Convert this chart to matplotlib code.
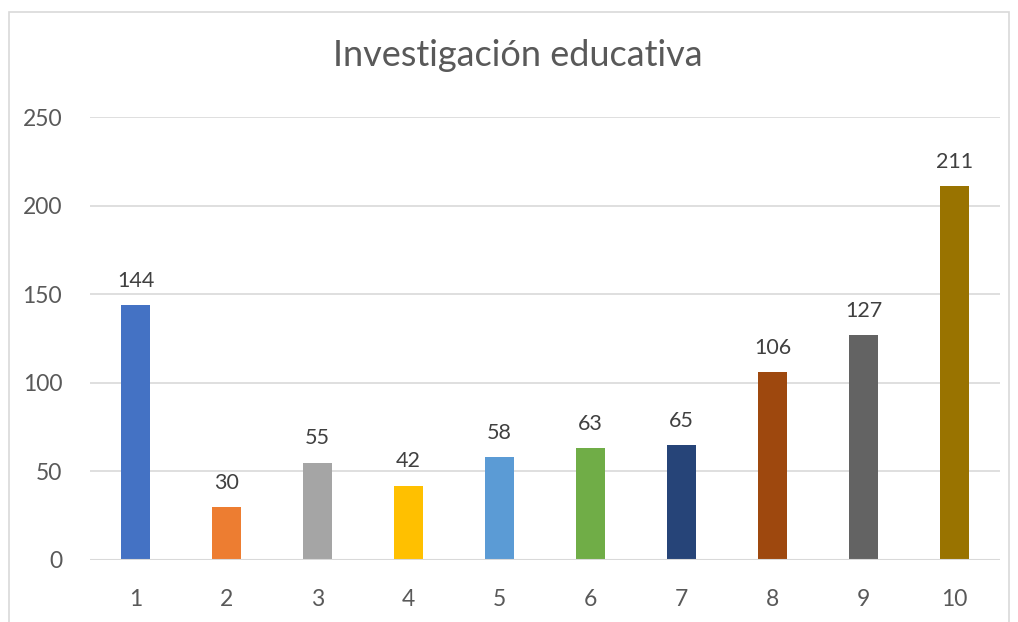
import matplotlib.pyplot as plt
from matplotlib.patches import Rectangle

categories = ["1", "2", "3", "4", "5", "6", "7", "8", "9", "10"]
values = [144, 30, 55, 42, 58, 63, 65, 106, 127, 211]
colors = ["#4472C4", "#ED7D31", "#A5A5A5", "#FFC000", "#5B9BD5",
          "#70AD47", "#264478", "#9E480E", "#636363", "#997300"]
yticks = [0, 50, 100, 150, 200, 250]
title = "Investigación educativa"

plt.rcParams['font.family'] = ['Lato', 'DejaVu Sans']

fig = plt.figure(figsize=(10.18, 6.22), dpi=100)
# chart border (Excel-style frame)
fig.patches.append(Rectangle((9 / 1018, -0.1), 1000 / 1018, 1 - 12 / 622 + 0.1,
                             transform=fig.transFigure, fill=False,
                             edgecolor="#D9D9D9", linewidth=1.2))

ax = fig.add_axes([90 / 1018, 1 - 560 / 622, 910 / 1018, 443 / 622])
x = list(range(len(categories)))
bars = ax.bar(x, values, width=0.32, color=colors, zorder=2)

for xi, v in zip(x, values):
    ax.text(xi, v + 8, str(v), ha="center", va="bottom", fontsize=15.5,
            color="#404040")

ax.set_xlim(-0.5, len(categories) - 0.5)
ax.set_ylim(0, 250)
ax.set_yticks(yticks)
ax.set_xticks(x)
ax.set_xticklabels(categories)
ax.grid(axis="y", color="#D9D9D9", linewidth=1.2, zorder=0)
ax.axhline(0, color="#D9D9D9", linewidth=1.5, zorder=3)
for s in ax.spines.values():
    s.set_visible(False)
ax.tick_params(axis="both", length=0, labelsize=16.5, labelcolor="#595959")
ax.tick_params(axis="x", pad=21)
ax.tick_params(axis="y", pad=20)

fig.text(0.509, 1 - 55 / 622, title, ha="center", va="center", fontsize=26,
         color="#595959")

plt.savefig("out.png", dpi=100)
